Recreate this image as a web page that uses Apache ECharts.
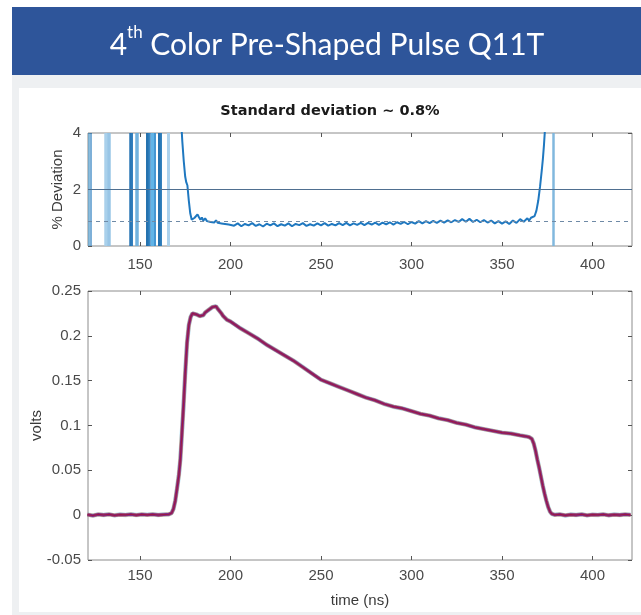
<!DOCTYPE html>
<html>
<head>
<meta charset="utf-8">
<script src="https://cdn.jsdelivr.net/npm/echarts@6/dist/echarts.min.js"></script>
<style>
html,body{margin:0;padding:0;background:#fff;}
#chart{width:641px;height:615px;}
</style>
</head>
<body>
<div id="chart"></div>
<script>
// ---------- data ----------
var titleMain = ' Color Pre-Shaped Pulse Q11T';
var subTitle = 'Standard deviation ~ 0.8%';
var xTicks = [150, 200, 250, 300, 350, 400];
var devTicks = [0, 2, 4];
var voltTicks = [-0.05, 0, 0.05, 0.1, 0.15, 0.2, 0.25];

// % deviation trace
var devTime = [172.6,173.4,174.2,175.0,175.6,176.2,177.0,177.8,178.6,179.4,180.2,181.0,181.8,182.6,183.4,184.2,
  185,186,187,188,189,190,191,192,193,194,195,196,197,198,199,200,
  202,204,206,208,210,212,214,216,218,220,222,224,226,228,230,232,234,236,238,240,
  242,244,246,248,250,252,254,256,258,260,262,264,266,268,270,272,274,276,278,280,
  282,284,286,288,290,292,294,296,298,300,302,304,306,308,310,312,314,316,318,320,
  322,324,326,328,330,332,334,336,338,340,342,344,346,348,350,352,354,356,358,360,
  362,364,365,366,367,368,369,370,371,372,372.6,373.2,373.8,374.3];
var devValue = [4.6,3.7,3.0,2.45,2.25,2.15,1.6,1.15,0.93,0.88,1.00,0.94,1.12,1.02,0.93,1.01,
  0.90,0.98,0.88,0.95,0.85,0.92,0.83,0.91,0.82,0.89,0.80,0.87,0.78,0.85,0.76,0.83,
  0.72,0.80,0.70,0.78,0.73,0.81,0.71,0.77,0.69,0.79,0.73,0.80,0.70,0.77,0.72,0.80,0.70,0.78,0.74,0.81,
  0.71,0.77,0.72,0.80,0.73,0.81,0.72,0.78,0.73,0.81,0.74,0.82,0.73,0.80,0.75,0.82,0.74,0.82,0.76,0.83,
  0.75,0.83,0.77,0.84,0.76,0.84,0.78,0.85,0.77,0.85,0.79,0.88,0.80,0.88,0.81,0.89,0.82,0.90,0.83,0.91,
  0.84,0.92,0.85,0.95,0.86,0.96,0.85,0.93,0.84,0.92,0.83,0.90,0.80,0.88,0.79,0.87,0.78,0.90,0.82,0.95,
  0.86,0.98,0.90,1.00,0.94,1.06,1.25,1.6,2.1,2.7,3.1,3.6,4.2,4.6];
var devRef = [2, 0.88];          // solid and dashed reference levels
var spikeTimes = [121.8,123.0,131.2,132.8,144.4,145.2,148.3,154.3,155.4,157.0,158.0,160.4,161.4,165.8,378.3];

// pulse traces (volts)
var pulseTime = [121,124,127,130,133,136,139,142,145,148,151,154,157,160,163,166,
  167.5,168.5,169.5,170.5,171.5,172.3,173,174,175,176,177,178,179,180,181,182,183,184,185,186,187,188,189,190,191,192,193,194,195,196,197,198,
  200,205,210,215,220,225,230,235,240,245,250,255,260,265,270,275,280,285,290,295,300,
  305,310,315,320,325,330,335,340,345,350,355,360,363,365,366.5,367.5,368.5,369.5,370.5,371.5,372.5,373.5,374.5,375.5,376.5,377.5,
  379,382,385,388,391,394,397,400,403,406,409,412,415,418,421];
var pulseValue = [0.0006,-0.0004,0.0008,0.0002,0.0009,-0.0002,0.0007,0.0003,0.0010,0.0001,0.0008,0.0004,0.0009,0.0002,0.0007,0.0010,
  0.0025,0.007,0.016,0.030,0.045,0.062,0.085,0.120,0.158,0.192,0.212,0.221,0.225,0.226,0.224,0.225,0.222,0.224,0.223,0.226,0.228,0.229,0.231,0.232,0.234,0.233,0.230,0.228,0.225,0.222,0.220,0.218,
  0.216,0.209,0.203,0.197,0.190,0.184,0.178,0.172,0.165,0.158,0.151,0.147,0.143,0.139,0.135,0.131,0.128,0.124,0.121,0.119,0.116,
  0.113,0.111,0.108,0.106,0.103,0.101,0.098,0.096,0.094,0.092,0.091,0.089,0.088,0.087,0.085,0.080,0.072,0.062,0.053,0.043,0.033,0.024,0.016,0.009,0.004,0.0015,
  0.0004,0.0009,-0.0003,0.0007,0.0002,0.0010,-0.0002,0.0006,0.0003,0.0009,-0.0001,0.0007,0.0002,0.0008,0.0004];

// ---------- build ----------
function pairs(t, v){ return t.map(function(x,i){ return [x, v[i]]; }); }
var devData = pairs(devTime, devValue);
var pulseData = pairs(pulseTime, pulseValue);

var spikeWidths = [1.5,1.5,3.5,3.5,2.5,2,3.5,3,2.5,3,2,3,2,3,2.5];
var spikeColors = ['#5aa0d0','#4a90c8','#a4cdea','#92c2e5','#1f6fb0','#2a78b8','#6aaedc','#1a6aaa','#2c7fc0','#58b0e6','#3a90d0','#1a6aaa','#2a7ab8','#a8d0ec','#7ab4dc'];

var XMIN = 121.3, XMAX = 421.8;
var tickColor = '#555';
var FONT = 'Liberation Sans, Arial, sans-serif';
var labelColor = '#4a4a4a';

function xAx(grid, pos, labels, margin, name){
  return {
    type:'value', gridIndex:grid, position:pos, min:XMIN, max:XMAX,
    axisLine:{show:false, onZero:false}, splitLine:{show:false},
    axisTick:{show:true, inside:true, length:4, customValues:xTicks, lineStyle:{color:tickColor}},
    axisLabel:{show:labels, customValues:xTicks, margin:margin||8, color:labelColor, fontSize:15, fontFamily:FONT},
    name:name||'', nameLocation:'middle', nameGap:33, nameMoveOverlap:false,
    nameTextStyle:{color:'#3a3a3a', fontSize:15, fontFamily:FONT}
  };
}
function yAx(grid, pos, min, max, ticks, labels, name, gap){
  return {
    type:'value', gridIndex:grid, position:pos, min:min, max:max,
    axisLine:{show:false, onZero:false}, splitLine:{show:false},
    axisTick:{show:true, inside:true, length:4, customValues:ticks, lineStyle:{color:tickColor}},
    axisLabel:{show:labels, customValues:ticks, margin:7, color:labelColor, fontSize:15, fontFamily:FONT,
      formatter:function(v){ return String(+v.toFixed(4)); }},
    name:name||'', nameLocation:'middle', nameGap:gap||30, nameRotate:90, nameMoveOverlap:false,
    nameTextStyle:{color:'#3a3a3a', fontSize:15, fontFamily:FONT}
  };
}

var spikeMark = spikeTimes.map(function(t,i){
  return {xAxis:t, lineStyle:{color:spikeColors[i], width:spikeWidths[i], type:'solid', opacity:0.95}};
});

var chart = echarts.init(document.getElementById('chart'), null, {renderer:'canvas'});
chart.setOption({
  animation:false,
  backgroundColor:'#ffffff',
  graphic:[
    {type:'rect', z:-10, shape:{x:12,y:75,width:629,height:540}, style:{fill:'#eef0f2'}},
    {type:'rect', z:-9, shape:{x:19,y:88,width:622,height:524}, style:{fill:'#ffffff'}},
    {type:'rect', z:-8, shape:{x:12,y:7,width:629,height:68}, style:{fill:'#2e559a'}},
    {type:'text', z:10,
      style:{text:'{a|4}{s|th}{a|'+titleMain+'}', x:327, y:42, align:'center', verticalAlign:'middle',
        rich:{a:{fontSize:30, fill:'#ffffff', fontFamily:'Lato, Open Sans, sans-serif', lineHeight:36, verticalAlign:'bottom'},
              s:{fontSize:17, fill:'#ffffff', fontFamily:'Lato, Open Sans, sans-serif', lineHeight:36, verticalAlign:'top'}}}},
    {type:'text', z:10, style:{text:subTitle, x:330, y:111, align:'center', verticalAlign:'middle',
      fill:'#1a1a1a', fontSize:14.5, fontWeight:'bold', fontFamily:'DejaVu Sans, sans-serif'}}
  ],
  grid:[
    {left:88, right:9, top:133, height:113, show:true, backgroundColor:'#fff', borderColor:'#8c8c8c', borderWidth:1},
    {left:88, right:9, top:291, height:269, show:true, backgroundColor:'#fff', borderColor:'#8c8c8c', borderWidth:1}
  ],
  xAxis:[
    xAx(0,'bottom',true,11), xAx(0,'top',false),
    xAx(1,'bottom',true,8,'time (ns)'), xAx(1,'top',false)
  ],
  yAxis:[
    yAx(0,'left',0,4,devTicks,true,'% Deviation',23), yAx(0,'right',0,4,devTicks,false),
    yAx(1,'left',-0.05,0.25,voltTicks,true,'volts',44), yAx(1,'right',-0.05,0.25,voltTicks,false)
  ],
  series:[
    {type:'line', xAxisIndex:0, yAxisIndex:0, data:[], silent:true,
      markLine:{silent:true, symbol:'none', label:{show:false}, data:spikeMark}},
    {type:'line', xAxisIndex:0, yAxisIndex:0, data:[], silent:true,
      markLine:{silent:true, symbol:'none', label:{show:false},
        data:[{yAxis:devRef[0], lineStyle:{color:'#4f6f90', width:1, type:'solid'}},
              {yAxis:devRef[1], lineStyle:{color:'#6f8aa6', width:1, type:[4,4]}}]}},
    {type:'line', xAxisIndex:0, yAxisIndex:0, data:devData, showSymbol:false, clip:true, silent:true,
      lineStyle:{color:'#1f78c0', width:2}},
    {type:'line', xAxisIndex:2, yAxisIndex:2, data:pulseData, showSymbol:false, silent:true,
      lineStyle:{color:'#4DBEEE', width:4.5, opacity:0.45}},
    {type:'line', xAxisIndex:2, yAxisIndex:2, data:pulseData, showSymbol:false, silent:true,
      lineStyle:{color:'#D95319', width:3.8, opacity:0.6}},
    {type:'line', xAxisIndex:2, yAxisIndex:2, data:pulseData, showSymbol:false, silent:true,
      lineStyle:{color:'#7E2F8E', width:2.8}},
    {type:'line', xAxisIndex:2, yAxisIndex:2, data:pulseData, showSymbol:false, silent:true,
      lineStyle:{color:'#A2142F', width:1.2, opacity:0.8}}
  ]
});
</script>
</body>
</html>
